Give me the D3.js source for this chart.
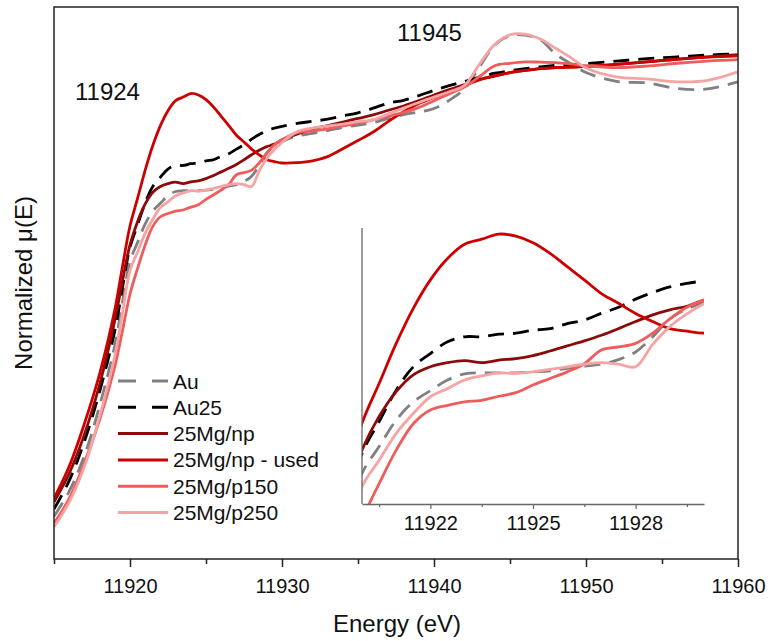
<!DOCTYPE html>
<html lang="en">
<head>
<meta charset="utf-8">
<title>XANES Au L3-edge</title>
<style>
  body { margin: 0; background: #fff; }
  text { font-family: Arial, "Liberation Sans", sans-serif; fill: #111; }
  .frame { fill: none; stroke: #222; stroke-width: 1.5; }
  .curve { fill: none; stroke-width: 2.8; stroke-linejoin: round; }
</style>
<script src="https://d3js.org/d3.v7.min.js"></script>
</head>
<body>
<div id="chart"></div>
<script>
// energy grid (eV)
var energy = [11915, 11916, 11917, 11918, 11919, 11919.5,
  11920, 11920.5, 11921, 11921.5, 11922, 11922.5, 11923, 11923.5, 11924, 11924.5,
  11925, 11925.5, 11926, 11926.5, 11927, 11927.5, 11928, 11928.5, 11929, 11929.5, 11930,
  11931, 11932, 11933, 11934, 11935, 11936, 11937, 11938, 11939, 11940,
  11941, 11942, 11943, 11944, 11945, 11946, 11947, 11948, 11949, 11950,
  11952, 11954, 11956, 11958, 11960];

var au = [0.12, 0.19, 0.29, 0.43, 0.60, 0.72,
  0.836, 0.889, 0.941, 0.977, 0.999, 1.020, 1.032, 1.034, 1.034, 1.034,
  1.036, 1.038, 1.043, 1.047, 1.051, 1.060, 1.075, 1.105, 1.140, 1.160, 1.172,
  1.188, 1.195, 1.203, 1.212, 1.218, 1.225, 1.237, 1.248, 1.255, 1.265,
  1.288, 1.320, 1.382, 1.443, 1.470, 1.471, 1.458, 1.418, 1.391, 1.366,
  1.341, 1.337, 1.321, 1.320, 1.340];

var au25 = [0.14, 0.22, 0.33, 0.47, 0.64, 0.76,
  0.875, 0.938, 1.000, 1.046, 1.072, 1.095, 1.105, 1.105, 1.110, 1.112,
  1.118, 1.121, 1.131, 1.138, 1.151, 1.163, 1.179, 1.192, 1.203, 1.210, 1.215,
  1.223, 1.229, 1.235, 1.244, 1.253, 1.266, 1.280, 1.288, 1.301, 1.316,
  1.329, 1.341, 1.353, 1.364, 1.371, 1.377, 1.382, 1.386, 1.389, 1.391,
  1.398, 1.405, 1.410, 1.415, 1.419];

var mgNp = [0.16, 0.24, 0.35, 0.49, 0.67, 0.78,
  0.882, 0.948, 0.997, 1.030, 1.046, 1.054, 1.058, 1.054, 1.059, 1.062,
  1.068, 1.077, 1.087, 1.097, 1.108, 1.121, 1.135, 1.148, 1.158, 1.165, 1.177,
  1.193, 1.207, 1.217, 1.227, 1.237, 1.247, 1.260, 1.272, 1.287, 1.303,
  1.318, 1.332, 1.346, 1.356, 1.366, 1.372, 1.377, 1.380, 1.381, 1.383,
  1.389, 1.396, 1.404, 1.410, 1.416];

var mgNpUsed = [0.17, 0.26, 0.38, 0.52, 0.70, 0.82,
  0.935, 1.013, 1.092, 1.161, 1.217, 1.259, 1.287, 1.297, 1.307, 1.303,
  1.290, 1.269, 1.243, 1.217, 1.190, 1.171, 1.151, 1.135, 1.121, 1.116, 1.112,
  1.113, 1.118, 1.130, 1.152, 1.175, 1.199, 1.229, 1.256, 1.279, 1.296,
  1.311, 1.329, 1.346, 1.357, 1.366, 1.372, 1.377, 1.380, 1.381, 1.383,
  1.389, 1.396, 1.403, 1.409, 1.413];

var mgP150 = [0.10, 0.17, 0.27, 0.39, 0.54, 0.64,
  0.744, 0.816, 0.882, 0.934, 0.961, 0.970, 0.977, 0.980, 0.988, 0.995,
  1.010, 1.023, 1.036, 1.052, 1.079, 1.085, 1.092, 1.112, 1.140, 1.163, 1.177,
  1.197, 1.202, 1.208, 1.216, 1.224, 1.233, 1.243, 1.254, 1.268, 1.287,
  1.306, 1.325, 1.355, 1.385, 1.392, 1.396, 1.395, 1.394, 1.390, 1.385,
  1.380, 1.384, 1.392, 1.398, 1.402];

var mgP250 = [0.09, 0.16, 0.26, 0.40, 0.57, 0.69,
  0.810, 0.862, 0.915, 0.954, 0.987, 1.003, 1.020, 1.028, 1.034, 1.033,
  1.036, 1.041, 1.046, 1.051, 1.054, 1.051, 1.046, 1.090, 1.125, 1.150, 1.170,
  1.200, 1.210, 1.216, 1.221, 1.228, 1.233, 1.250, 1.266, 1.282, 1.297,
  1.312, 1.330, 1.390, 1.445, 1.472, 1.474, 1.460, 1.434, 1.408, 1.379,
  1.354, 1.348, 1.340, 1.344, 1.368];

var seriesNames = ["Au", "Au25", "25Mg/np", "25Mg/np - used", "25Mg/p150", "25Mg/p250"];
var seriesValues = [au, au25, mgNp, mgNpUsed, mgP150, mgP250];
var seriesColors = ["#808080", "#000000", "#8b0a0a", "#cc0000", "#ee5c5c", "#f6a3a3"];
var seriesDashed = [true, true, false, false, false, false];

var mainTicks = [11920, 11930, 11940, 11950, 11960];
var insetTicks = [11922, 11925, 11928];
var peakLabels = ["11924", "11945"];

var W = 770, H = 641;
var svg = d3.select("#chart").append("svg")
    .attr("width", W).attr("height", H);

var x = d3.scaleLinear().domain([11915, 11960]).range([54, 738]);
var y = d3.scaleLinear().domain([0, 1.55]).range([559, 7]);
var ix = d3.scaleLinear().domain([11920, 11930]).range([362, 704]);
var iy = d3.scaleLinear().domain([0.776, 1.319]).range([504, 228]);

var defs = svg.append("defs");
defs.append("clipPath").attr("id", "clipMain").append("rect")
    .attr("x", 54).attr("y", 7).attr("width", 684).attr("height", 552);
defs.append("clipPath").attr("id", "clipInset").append("rect")
    .attr("x", 362).attr("y", 228).attr("width", 342).attr("height", 276);

function makeLine(sx, sy, vals) {
  return d3.line()
    .x(function(d, i) { return sx(energy[i]); })
    .y(function(d) { return sy(d); })
    .curve(d3.curveCatmullRom.alpha(0.5))(vals);
}

// main curves
var gMain = svg.append("g").attr("clip-path", "url(#clipMain)");
seriesValues.forEach(function(vals, i) {
  gMain.append("path")
    .attr("class", "curve")
    .attr("d", makeLine(x, y, vals))
    .attr("stroke", seriesColors[i])
    .attr("stroke-dasharray", seriesDashed[i] ? "16,9" : null);
});

// frame
svg.append("rect").attr("class", "frame")
    .attr("x", 54).attr("y", 7).attr("width", 684).attr("height", 552);

// bottom axis
var xAxis = d3.axisBottom(x)
    .tickValues(d3.range(11915, 11961, 5))
    .tickSize(0).tickFormat("");
var gx = svg.append("g").attr("transform", "translate(0,559)").call(xAxis);
gx.select(".domain").remove();
gx.selectAll(".tick line")
    .attr("stroke", "#222").attr("stroke-width", 1.5)
    .attr("y2", function(d) { return d % 10 === 0 ? 8 : 5; });
gx.selectAll(".tick").filter(function(d) { return mainTicks.indexOf(d) >= 0; })
  .append("text")
    .attr("y", 34).attr("text-anchor", "middle")
    .style("font-size", "20px")
    .text(function(d) { return d; });

svg.append("text")
    .attr("x", 397).attr("y", 632).attr("text-anchor", "middle")
    .style("font-size", "24px")
    .text("Energy (eV)");

svg.append("text")
    .attr("transform", "translate(32,283) rotate(-90)")
    .attr("text-anchor", "middle")
    .style("font-size", "24px")
    .text("Normalized \u03bc(E)");

// peak labels
svg.append("text").attr("x", 75).attr("y", 100)
    .style("font-size", "24px").text(peakLabels[0]);
svg.append("text").attr("x", 397).attr("y", 41)
    .style("font-size", "24px").text(peakLabels[1]);

// legend
var legend = svg.selectAll(".legend")
    .data(seriesNames).enter().append("g")
    .attr("class", "legend")
    .attr("transform", function(d, i) { return "translate(118," + (381 + i * 26.3) + ")"; });
legend.append("line")
    .attr("x1", 0).attr("x2", 50)
    .attr("stroke-width", 3)
    .attr("stroke", function(d, i) { return seriesColors[i]; })
    .attr("stroke-dasharray", function(d, i) { return seriesDashed[i] ? "18,16" : null; });
legend.append("text")
    .attr("x", 55).attr("y", 7.5)
    .style("font-size", "21px")
    .text(function(d) { return d; });

// inset
var gIn = svg.append("g").attr("clip-path", "url(#clipInset)");
gIn.append("rect").attr("x", 362).attr("y", 228).attr("width", 342).attr("height", 276)
    .attr("fill", "#fff");
seriesValues.forEach(function(vals, i) {
  gIn.append("path")
    .attr("class", "curve")
    .attr("d", makeLine(ix, iy, vals))
    .attr("stroke", seriesColors[i])
    .attr("stroke-dasharray", seriesDashed[i] ? "16,9" : null);
});

svg.append("line")
    .attr("x1", 362).attr("x2", 362).attr("y1", 228).attr("y2", 504)
    .attr("stroke", "#666").attr("stroke-width", 1.3);
var ixAxis = d3.axisBottom(ix)
    .tickValues(d3.range(11920.5, 11930, 1.5))
    .tickSize(0).tickFormat("");
var gix = svg.append("g").attr("transform", "translate(0,504)").call(ixAxis);
gix.select(".domain").attr("stroke", "#666").attr("stroke-width", 1.3);
gix.selectAll(".tick line")
    .attr("stroke", "#666").attr("stroke-width", 1.2)
    .attr("y2", function(d) { return insetTicks.indexOf(d) >= 0 ? 5 : 3; });
gix.selectAll(".tick").filter(function(d) { return insetTicks.indexOf(d) >= 0; })
  .append("text")
    .attr("y", 26).attr("text-anchor", "middle")
    .style("font-size", "20px")
    .text(function(d) { return d; });
</script>
</body>
</html>
